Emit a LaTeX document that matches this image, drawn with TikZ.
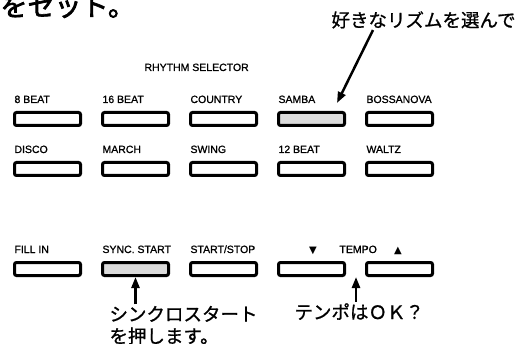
\documentclass[tikz,border=0pt]{standalone}
\usepackage{fontspec}
\setmainfont{Liberation Sans}
\newfontfamily\keyfont[FakeBold=1]{Liberation Sans}
\newfontfamily\jfont[FakeBold=1]{Noto Sans CJK JP}
\newfontfamily\jheavy[FakeBold=2.5]{Noto Sans CJK JP}
\newfontfamily\symfont{DejaVu Sans}
\usetikzlibrary{arrows.meta}
\def\colsep{88}

\begin{document}
\begin{tikzpicture}[x=1pt,y=-1pt,line width=3pt]
    \tikzstyle{button}=[draw,rounded corners=2pt,minimum width=66pt,minimum height=13pt,inner sep=0pt]
    \tikzstyle{keyname}=[anchor=base west,inner sep=0pt,font=\keyfont\fontsize{10.5}{12}\selectfont]
    \tikzstyle{note}=[anchor=base west,inner sep=0pt,font=\jfont\fontsize{18.5}{22}\selectfont]
    \tikzstyle{pointer}=[-{Triangle[length=11pt,width=8pt]},line width=2.5pt]

    \useasboundingbox (0,0) rectangle (526,344);

    % Draw the buttons, the lit one of each row in grey
    \foreach \row/\y/\lit in {1/119/4,2/169/0,3/269/2}
        \foreach \col in {1,...,5}{
            \ifnum\col=\lit \def\shade{black!14}\else\def\shade{white}\fi
            \node[button,fill=\shade] (B-\row-\col) at ({47.5+\colsep*(\col-1)},\y) {};
        }

    % Names over the buttons
    \foreach \name [count=\col] in {8 BEAT,16 BEAT,COUNTRY,SAMBA,BOSSANOVA}
        \node[keyname] (L-1-\col) at ({13+\colsep*(\col-1)},103) {\name};
    \foreach \name [count=\col] in {DISCO,MARCH,SWING,12 BEAT,WALTZ}
        \node[keyname] (L-2-\col) at ({13+\colsep*(\col-1)},153) {\name};
    \foreach \name [count=\col] in {FILL IN,SYNC. START,START/STOP}
        \node[keyname] (L-3-\col) at ({13+\colsep*(\col-1)},253) {\name};
    \node[keyname,anchor=base] (down) at (313,253) {\symfont\fontsize{10}{12}\selectfont ▼};
    \node[keyname] (tempo) at (338,253) {TEMPO};
    \node[keyname,anchor=base] (up) at (398,253) {\symfont\fontsize{10}{12}\selectfont ▲};
    \node[keyname] (title) at (143,71) {RHYTHM SELECTOR};

    % Japanese notes
    \node[note,font=\jheavy\fontsize{27}{30}\selectfont] (set) at (-1,16) {をセット。};
    \node[note] (choose) at (330,27) {好きなリズムを選んで};
    \node[note] (sync) at (108,321) {シンクロスタート};
    \node[note] (sync2) at (108,343) {を押します。};
    \node[note] (okq) at (293,319) {テンポはＯＫ？};

    % Arrows from the notes
    \coordinate (pick) at (337,103);
    \coordinate (gap) at (356,277);
    \draw[pointer] ([xshift=43pt]choose.south west) -- (pick);
    \draw[pointer] (sync.north -| B-3-2.south) -- (B-3-2.south);
    \draw[pointer] (okq.north -| gap) -- (gap);
\end{tikzpicture}
\end{document}
